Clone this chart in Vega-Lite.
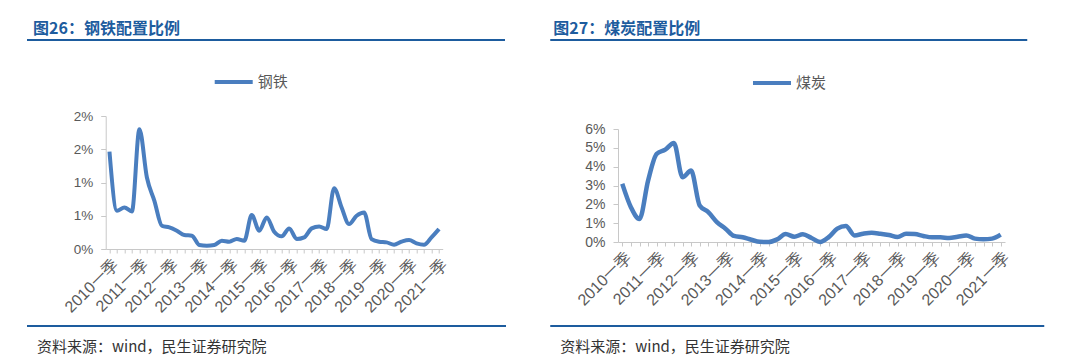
{
  "$schema": "https://vega.github.io/schema/vega-lite/v6.json",
  "padding": {"left": 27, "top": 21, "right": 0, "bottom": 2},
  "background": "white",
  "config": {
    "view": {"stroke": null},
    "font": "Liberation Sans",
    "axis": {"labelFont": "Liberation Sans", "labelColor": "#595959", "domainColor": "#c8c8c8", "tickColor": "#c8c8c8", "grid": false, "titleFontSize": 1, "titleColor": "white"},
    "legend": {"orient": "none", "symbolType": "stroke", "symbolSize": 1444, "symbolStrokeWidth": 4, "labelFont": "Noto Sans CJK SC", "labelFontSize": 15, "labelColor": "#595959", "labelOffset": 3, "title": null, "padding": 0}
  },
  "datasets": {
    "q": [
      {"q": "2010一季", "steel": 1.465, "coal": 3.09},
      {"q": "2010二季", "steel": 0.575, "coal": 1.85},
      {"q": "2010三季", "steel": 0.625, "coal": 1.22},
      {"q": "2010四季", "steel": 0.565, "coal": 3.26},
      {"q": "2011一季", "steel": 1.8, "coal": 4.68},
      {"q": "2011二季", "steel": 1.075, "coal": 4.9},
      {"q": "2011三季", "steel": 0.725, "coal": 5.26},
      {"q": "2011四季", "steel": 0.35, "coal": 3.44},
      {"q": "2012一季", "steel": 0.325, "coal": 3.79},
      {"q": "2012二季", "steel": 0.275, "coal": 1.94},
      {"q": "2012三季", "steel": 0.21, "coal": 1.59},
      {"q": "2012四季", "steel": 0.2, "coal": 1.06},
      {"q": "2013一季", "steel": 0.06, "coal": 0.71},
      {"q": "2013二季", "steel": 0.05, "coal": 0.32},
      {"q": "2013三季", "steel": 0.06, "coal": 0.25},
      {"q": "2013四季", "steel": 0.125, "coal": 0.12},
      {"q": "2014一季", "steel": 0.11, "coal": 0.01},
      {"q": "2014二季", "steel": 0.15, "coal": 0.0},
      {"q": "2014三季", "steel": 0.125, "coal": 0.14},
      {"q": "2014四季", "steel": 0.51, "coal": 0.42},
      {"q": "2015一季", "steel": 0.275, "coal": 0.28},
      {"q": "2015二季", "steel": 0.475, "coal": 0.41},
      {"q": "2015三季", "steel": 0.26, "coal": 0.21},
      {"q": "2015四季", "steel": 0.19, "coal": 0.0},
      {"q": "2016一季", "steel": 0.31, "coal": 0.26},
      {"q": "2016二季", "steel": 0.15, "coal": 0.71},
      {"q": "2016三季", "steel": 0.175, "coal": 0.85},
      {"q": "2016四季", "steel": 0.31, "coal": 0.35},
      {"q": "2017一季", "steel": 0.34, "coal": 0.44},
      {"q": "2017二季", "steel": 0.3, "coal": 0.49},
      {"q": "2017三季", "steel": 0.915, "coal": 0.44},
      {"q": "2017四季", "steel": 0.625, "coal": 0.37},
      {"q": "2018一季", "steel": 0.375, "coal": 0.26},
      {"q": "2018二季", "steel": 0.5, "coal": 0.44},
      {"q": "2018三季", "steel": 0.55, "coal": 0.42},
      {"q": "2018四季", "steel": 0.15, "coal": 0.32},
      {"q": "2019一季", "steel": 0.11, "coal": 0.25},
      {"q": "2019二季", "steel": 0.1, "coal": 0.25},
      {"q": "2019三季", "steel": 0.065, "coal": 0.21},
      {"q": "2019四季", "steel": 0.11, "coal": 0.28},
      {"q": "2020一季", "steel": 0.135, "coal": 0.35},
      {"q": "2020二季", "steel": 0.085, "coal": 0.18},
      {"q": "2020三季", "steel": 0.065, "coal": 0.14},
      {"q": "2020四季", "steel": 0.175, "coal": 0.18},
      {"q": "2021一季", "steel": 0.3, "coal": 0.39}
    ]
  },
  "resolve": {"scale": {"color": "independent"}, "legend": {"color": "independent"}},
  "spacing": 21,
  "hconcat": [
    {
      "spacing": 0,
      "center": true,
      "resolve": {"scale": {"color": "independent"}, "legend": {"color": "independent"}},
      "vconcat": [
        {
          "width": 478, "height": 2,
          "view": {"fill": "#1d5c9e", "stroke": null},
          "title": {"text": "图26：钢铁配置比例", "anchor": "start", "frame": "group", "dx": 6, "offset": 2, "font": "Noto Sans CJK SC", "fontSize": 16, "fontWeight": "bold", "color": "#1d5c9e"},
          "data": {"values": []},
          "mark": "text",
          "encoding": {"x": {"datum": 0, "type": "quantitative", "axis": {"orient": "top", "domain": false, "ticks": false, "labels": false, "title": " ", "titleX": 502, "titleY": 1.5}}}
        },
        {
          "width": 337, "height": 133,
          "data": {"name": "q"},
          "mark": {"type": "line", "interpolate": "monotone", "strokeWidth": 4},
          "encoding": {
            "x": {"field": "q", "type": "ordinal", "sort": null, "scale": {"type": "point", "padding": 0.5},
              "axis": {"title": " ", "titleX": 0, "titleY": 75, "labelAngle": -45, "labelExpr": "indexof(datum.label, '一季') >= 0 ? datum.label : ''", "labelFontSize": 16, "tickSize": 4, "labelPadding": 3, "labelOverlap": false}},
            "y": {"field": "steel", "type": "quantitative", "scale": {"domain": [0, 2]},
              "axis": {"title": " ", "titleX": -60, "titleY": -75, "values": [0, 0.5, 1, 1.5, 2], "labelExpr": "datum.value == 0 ? '0%' : datum.value <= 1 ? '1%' : '2%'", "labelFontSize": 13.5, "tickSize": 5, "labelPadding": 8}},
            "color": {"datum": "钢铁", "scale": {"range": ["#4a7ebf"]}, "legend": {"legendX": 107, "legendY": -55}}
          }
        },
        {
          "width": 479, "height": 2,
          "view": {"fill": "#1d5c9e", "stroke": null},
          "title": {"text": "资料来源：wind，民生证券研究院", "orient": "bottom", "anchor": "start", "frame": "group", "dx": 10, "offset": 13, "font": "Noto Sans CJK SC", "fontSize": 15, "fontWeight": "normal", "color": "#333333"},
          "data": {"values": []},
          "mark": "text",
          "encoding": {"x": {"datum": 0, "type": "quantitative", "axis": {"orient": "bottom", "domain": false, "ticks": false, "labels": false, "title": " ", "titleX": 502, "titleY": -1.5}}}
        }
      ]
    },
    {
      "spacing": 0,
      "center": true,
      "resolve": {"scale": {"color": "independent"}, "legend": {"color": "independent"}},
      "vconcat": [
        {
          "width": 477, "height": 2,
          "view": {"fill": "#1d5c9e", "stroke": null},
          "title": {"text": "图27：煤炭配置比例", "anchor": "start", "frame": "group", "dx": 3, "offset": 2, "font": "Noto Sans CJK SC", "fontSize": 16, "fontWeight": "bold", "color": "#1d5c9e"},
          "data": {"values": []},
          "mark": "text",
          "encoding": {"x": {"datum": 0, "type": "quantitative", "axis": {"orient": "top", "domain": false, "ticks": false, "labels": false, "title": " ", "titleX": 529.5, "titleY": 1.5}}}
        },
        {
          "width": 387, "height": 113,
          "data": {"name": "q"},
          "mark": {"type": "line", "interpolate": "monotone", "strokeWidth": 4.5},
          "encoding": {
            "x": {"field": "q", "type": "ordinal", "sort": null, "scale": {"type": "point", "padding": 0.5},
              "axis": {"title": " ", "titleX": 0, "titleY": 82, "labelAngle": -45, "labelExpr": "indexof(datum.label, '一季') >= 0 ? datum.label : ''", "labelFontSize": 16, "tickSize": 4, "labelPadding": 3, "labelOverlap": false}},
            "y": {"field": "coal", "type": "quantitative", "scale": {"domain": [0, 6]},
              "axis": {"title": " ", "titleX": -60, "titleY": -88, "values": [0, 1, 2, 3, 4, 5, 6], "labelExpr": "datum.value + '%'", "labelFontSize": 14, "tickSize": 5, "labelPadding": 8}},
            "color": {"datum": "煤炭", "scale": {"range": ["#4a7ebf"]}, "legend": {"legendX": 133, "legendY": -67}}
          }
        },
        {
          "width": 494, "height": 2,
          "view": {"fill": "#1d5c9e", "stroke": null},
          "title": {"text": "资料来源：wind，民生证券研究院", "orient": "bottom", "anchor": "start", "frame": "group", "dx": 10, "offset": 13, "font": "Noto Sans CJK SC", "fontSize": 15, "fontWeight": "normal", "color": "#333333"},
          "data": {"values": []},
          "mark": "text",
          "encoding": {"x": {"datum": 0, "type": "quantitative", "axis": {"orient": "bottom", "domain": false, "ticks": false, "labels": false, "title": " ", "titleX": 529.5, "titleY": -1.5}}}
        }
      ]
    }
  ]
}
